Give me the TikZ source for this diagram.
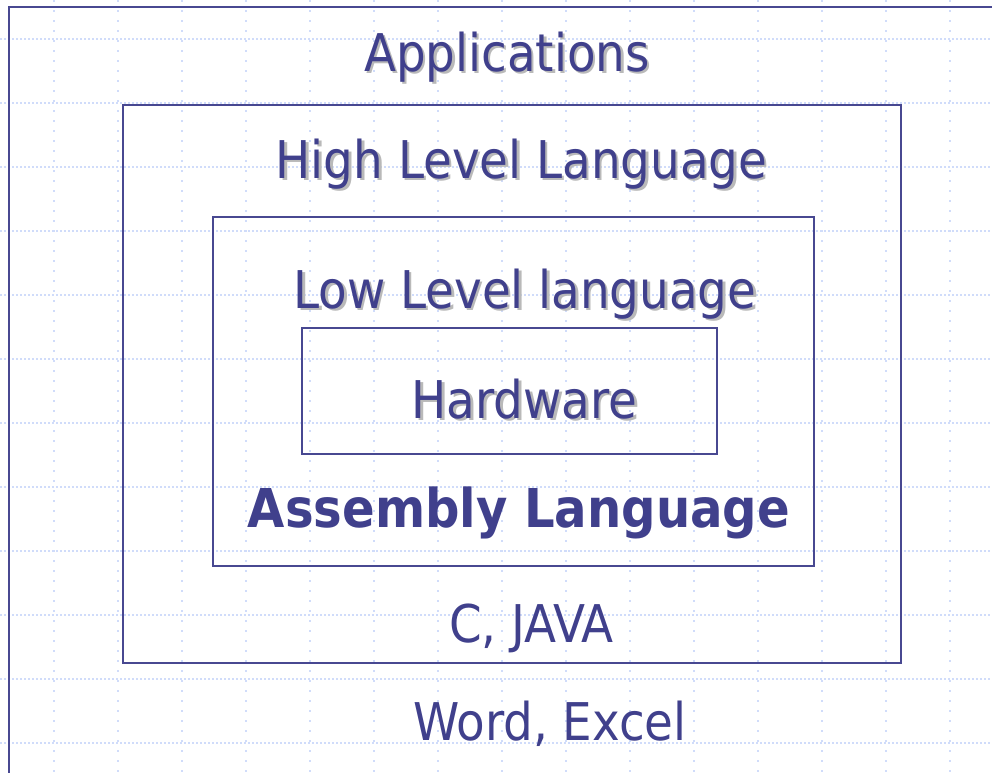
\documentclass[tikz,border=0pt]{standalone}
\usepackage{fontspec}
\setmainfont{DejaVu Sans Condensed}
\definecolor{ink}{RGB}{64,64,140}
\definecolor{boxline}{RGB}{72,72,145}
\definecolor{gridblue}{RGB}{208,220,250}
\definecolor{shadowgray}{RGB}{185,185,185}
\newcommand\dropshadow[1]{\rlap{\kern2.5pt\raisebox{-2.5pt}{\textcolor{shadowgray}{#1}}}#1}
\tikzset{
  layer text/.style={anchor=base, inner sep=0pt, text=ink, font=\fontsize{52}{60}\selectfont},
  layer box/.style={draw=boxline, line width=2pt},
}

\begin{document}
\begin{tikzpicture}[x=1pt, y=-1pt]

  \useasboundingbox (0,0) rectangle (992,772);
  \clip (0,0) rectangle (992,772);

  % dotted grid
  \foreach \y in {39,103,...,743}
    \draw[gridblue, line width=1.3pt, dash pattern=on 2pt off 2pt] (0,\y) -- (992,\y);
  \foreach \x in {54,118,...,950}
    \draw[gridblue, line width=1.3pt, dash pattern=on 2pt off 8pt] (\x,0) -- (\x,772);

  % nested layers
  \draw[layer box] (9,7) rectangle (1010,790);
  \draw[layer box] (123,105) rectangle (901,663);
  \draw[layer box] (213,217) rectangle (814,566);
  \draw[layer box] (302,328) rectangle (717,454);

  % labels
  \node[layer text] (apps) at (507,71) {\dropshadow{Applications}};
  \node[layer text] (high) at (521.5,178) {\dropshadow{High Level Language}};
  \node[layer text] (low) at (525,308) {\dropshadow{Low Level language}};
  \node[layer text] (hw) at (524.5,418) {\dropshadow{Hardware}};

  \node[layer text, font=\fontsize{53.5}{60}\selectfont\bfseries] (asm) at (519,527) {Assembly Language};
  \node[layer text] (cjava) at (531.5,642) {C, JAVA};
  \node[layer text] (office) at (550,740) {Word, Excel};

\end{tikzpicture}
\end{document}
